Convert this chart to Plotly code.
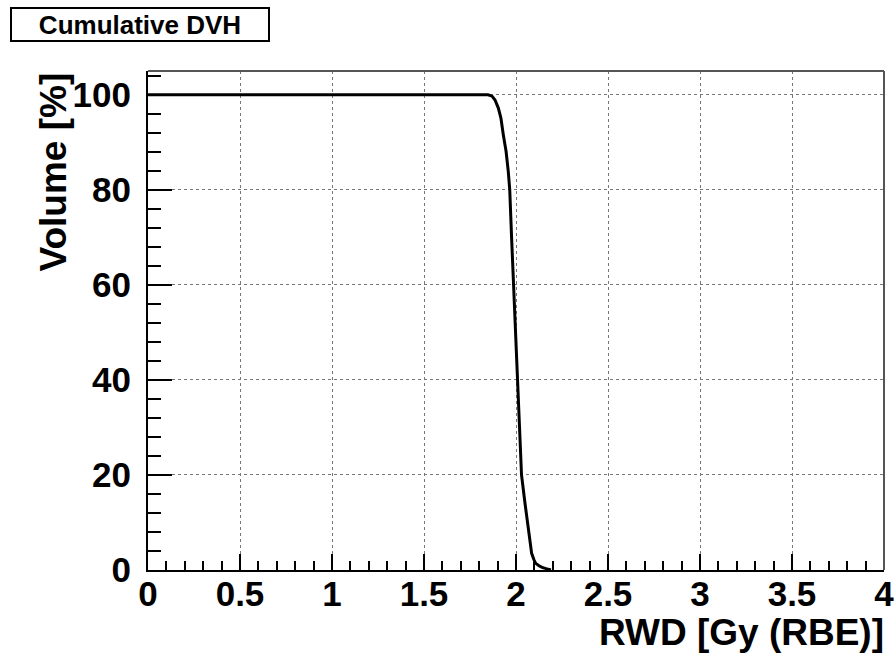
import plotly.graph_objects as go

dose = [0.0, 1.80, 1.848, 1.870, 1.886, 1.904, 1.918, 1.931, 1.946, 1.958, 1.966,
        1.976, 1.986, 1.997, 2.008, 2.019, 2.030, 2.049, 2.062, 2.071, 2.085,
        2.097, 2.107, 2.125, 2.139, 2.170, 2.190]
volume = [100.0, 100.0, 100.0, 99.7, 98.9, 97.2, 95.1, 91.6, 88.1, 83.9, 80.0,
          70.0, 60.0, 50.0, 40.0, 30.0, 20.0, 14.0, 10.5, 7.0, 3.5,
          2.2, 1.4, 0.9, 0.6, 0.2, 0.0]

x_ticks = [0, 0.5, 1, 1.5, 2, 2.5, 3, 3.5, 4]
x_ticklabels = ["0", "0.5", "1", "1.5", "2", "2.5", "3", "3.5", "4"]
y_ticks = [0, 20, 40, 60, 80, 100]
y_ticklabels = ["0", "20", "40", "60", "80", "100"]

title_text = "Cumulative DVH"
x_title = "RWD [Gy (RBE)]"
y_title = "Volume [%]"

FONT = "Liberation Sans"
W, H = 896, 657
L, R, T, B = 148, 12, 71, 87
pw, ph = W - L - R, H - T - B

fig = go.Figure()
fig.add_trace(go.Scatter(x=dose, y=volume, mode="lines",
                         line=dict(color="black", width=3), hoverinfo="skip"))

tickfont = dict(family=FONT, size=35, color="black", weight="bold")
fig.update_layout(
    width=W, height=H, margin=dict(l=L, r=R, t=T, b=B, pad=0, autoexpand=False),
    paper_bgcolor="white", plot_bgcolor="white", showlegend=False,
    xaxis=dict(range=[0, 4], tickvals=x_ticks, ticktext=x_ticklabels, automargin=False,
               ticks="inside", ticklen=16, tickwidth=2, tickcolor="black",
               minor=dict(dtick=0.1, ticks="inside", ticklen=9, tickwidth=2,
                          tickcolor="black", showgrid=False),
               showline=True, linecolor="black", linewidth=2,
               showgrid=True, gridcolor="#777", griddash="dot", gridwidth=1,
               zeroline=False, tickfont=tickfont, ticklabelstandoff=-8),
    yaxis=dict(range=[0, 105], tickvals=y_ticks, ticktext=y_ticklabels, automargin=False,
               ticks="inside", ticklen=24, tickwidth=2, tickcolor="black",
               minor=dict(dtick=4, ticks="inside", ticklen=13, tickwidth=2,
                          tickcolor="black", showgrid=False),
               showline=True, linecolor="black", linewidth=2,
               showgrid=True, gridcolor="#777", griddash="dot", gridwidth=1,
               zeroline=False, tickfont=tickfont, ticklabelstandoff=8),
)

# top and right frame lines (grey)
fig.add_shape(type="line", xref="paper", yref="paper", x0=0, x1=1, y0=1, y1=1,
              line=dict(color="#555", width=2))
fig.add_shape(type="line", xref="paper", yref="paper", x0=1, x1=1, y0=0, y1=1,
              line=dict(color="#555", width=2))

# axis titles
fig.add_annotation(text=x_title, xref="paper", yref="paper", x=1, y=0,
                   xanchor="right", yanchor="top", yshift=-40, xshift=2, showarrow=False,
                   font=dict(family=FONT, size=37, color="black", weight="bold"))
fig.add_annotation(text=y_title, xref="paper", yref="paper", x=(53 - L) / pw, y=1,
                   xanchor="center", yanchor="top", textangle=-90, showarrow=False,
                   font=dict(family=FONT, size=37, color="black", weight="bold"))

# title box
fig.add_annotation(text=title_text, xref="paper", yref="paper",
                   x=(10 - L) / pw, y=(H - B - 7) / ph, xanchor="left", yanchor="top",
                   showarrow=False, bordercolor="black", borderwidth=2, borderpad=0,
                   bgcolor="white", width=256, height=31, align="center",
                   font=dict(family=FONT, size=26, color="black", weight="bold"))

fig.write_html("out.html")
